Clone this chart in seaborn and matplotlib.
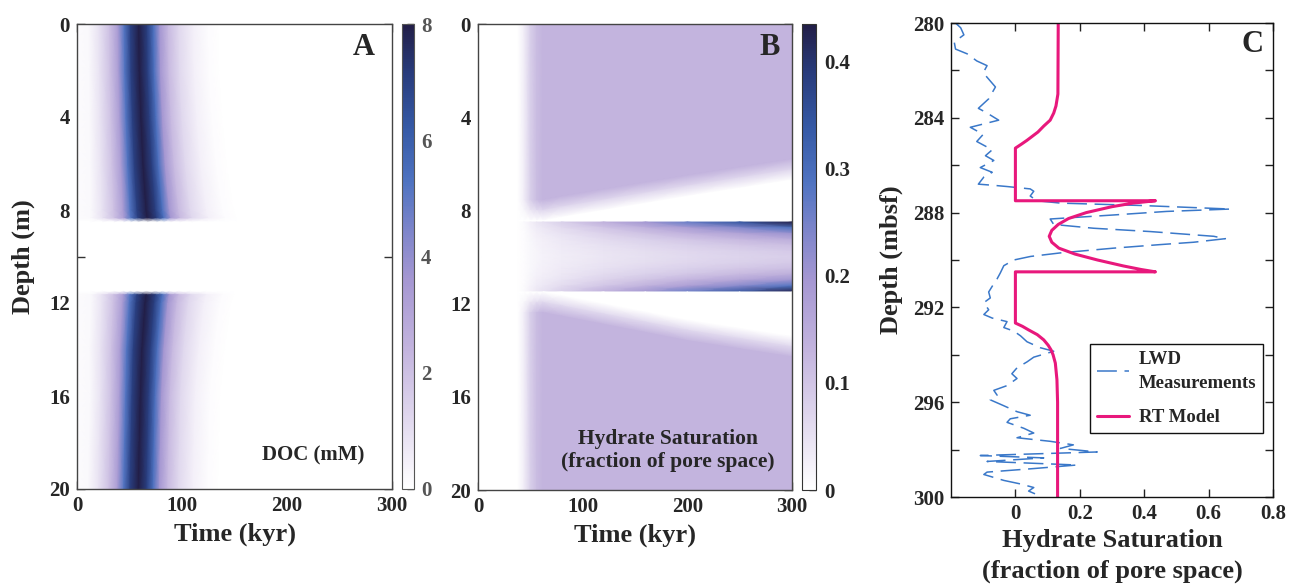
import numpy as np
import matplotlib
matplotlib.use("Agg")
import matplotlib.pyplot as plt
from matplotlib.colors import LinearSegmentedColormap, Normalize
from matplotlib.ticker import MultipleLocator, FixedLocator, FixedFormatter
import seaborn as sns

# ---------------- Panel A: DOC pulse (mM) ----------------
# DOC across the pulse, as a function of time relative to the pulse centre (kyr)
doc_offset = [-80, -48, -38, -28, -20, -14, -8, 0, 8, 14, 20, 28, 38, 52, 66, 76, 260]
doc_profile = [0, 0.2, 0.9, 2.0, 3.4, 5.2, 7.0, 8.0, 7.0, 5.4, 3.6, 2.2, 1.2, 0.45, 0.1, 0.0, 0.0]
# pulse centre (kyr), spread and strength with depth, above and below the 8.5-11.5 m layer
doc_upper_depth = [0, 2, 4, 6, 8, 8.35, 8.5]
doc_upper_centre = [59, 59.5, 61, 63, 66, 67, 67]
doc_upper_spread = [1.0, 1.0, 1.02, 1.05, 1.1, 1.12, 1.12]
doc_upper_level = [1, 1, 1, 1, 1, 1, 0]
doc_lower_depth = [11.5, 11.65, 12, 14, 16, 18, 20]
doc_lower_centre = [66, 66, 65, 62, 60.5, 59.5, 58.5]
doc_lower_spread = [1.1, 1.1, 1.08, 1.04, 1.0, 1.0, 1.0]
doc_lower_level = [0, 1, 1, 1, 1, 1, 1]
doc_ticks = [0, 2, 4, 6, 8]

# ---------------- Panel B: hydrate saturation ----------------
sat_time = [0, 38, 44, 50, 56, 62, 80, 120, 160, 200, 250, 300]
host_sat = [0, 0, 0.03, 0.08, 0.115, 0.13, 0.13, 0.13, 0.13, 0.13, 0.13, 0.13]
upper_edge = [8.0, 8.0, 8.0, 8.0, 8.0, 8.0, 7.85, 7.55, 7.25, 6.95, 6.6, 6.25]
lower_edge = [11.95, 11.95, 11.95, 11.95, 11.95, 11.95, 12.1, 12.45, 12.8, 13.15, 13.5, 13.85]
edge_halfwidth = 0.45
face_sat = [0, 0, 0.01, 0.025, 0.04, 0.05, 0.08, 0.14, 0.2, 0.265, 0.345, 0.435]
centre_sat = [0, 0, 0.005, 0.012, 0.018, 0.022, 0.03, 0.042, 0.052, 0.062, 0.072, 0.082]
layer_top, layer_bottom = 8.5, 11.5
band_offset = [0, 0.25, 0.5, 0.75, 1.0, 1.25, 1.5]
band_weight = [1, 0.59, 0.35, 0.18, 0.085, 0.025, 0]
sat_max = 0.435
sat_ticks = [0, 0.1, 0.2, 0.3, 0.4]

# ---------------- Panel C: profile at site ----------------
lwd_depth = [280.0, 280.2, 280.5, 280.8, 281.1, 281.3, 281.6, 281.8, 282.1, 282.7,
             283.2, 283.6, 283.8, 284.1, 284.4, 284.7, 285.0, 285.35, 285.6, 285.8,
             286.1, 286.3, 286.5, 286.8, 286.85, 286.9, 287.0, 287.1, 287.3, 287.5,
             287.6, 287.7, 287.85, 287.95, 288.1, 288.27, 288.5, 288.66, 288.8, 289.0,
             289.1, 289.25, 289.35, 289.5, 289.7, 289.85, 290.0, 290.24, 290.55, 290.8,
             291.0, 291.35, 291.6, 291.8, 292.1, 292.3, 292.45, 292.6, 292.85, 293.0,
             293.2, 293.45, 293.7, 293.85, 294.1, 294.3, 294.55, 294.8, 295.0, 295.3,
             295.5, 295.7, 295.9, 296.15, 296.4, 296.55, 296.7, 296.85, 297.1, 297.3,
             297.5, 297.65, 297.8, 297.95, 298.1, 298.25, 298.35, 298.5, 298.65, 298.8,
             298.95, 299.05, 299.3, 299.45, 299.6, 299.75, 299.9]
lwd_sat = [-0.186, -0.17, -0.16, -0.19, -0.186, -0.15, -0.12, -0.088, -0.10, -0.062,
           -0.083, -0.115, -0.088, -0.052, -0.14, -0.10, -0.12, -0.072, -0.093, -0.067,
           -0.109, -0.072, -0.098, -0.115, -0.067, -0.026, 0.046, 0.057, 0.046, 0.067,
           0.14, 0.39, 0.668, 0.47, 0.305, 0.108, 0.119, 0.243, 0.419, 0.616,
           0.652, 0.554, 0.45, 0.305, 0.14, 0.047, -0.005, -0.036, -0.047, -0.057,
           -0.067, -0.083, -0.078, -0.098, -0.083, -0.098, -0.072, -0.026, -0.036, -0.005,
           0.016, 0.036, 0.077, 0.119, 0.057, 0.036, 0.005, -0.011, 0.005, -0.026,
           -0.067, -0.057, -0.078, -0.036, 0.005, 0.046, -0.016, -0.026, 0.026, 0.057,
           0.005, 0.108, 0.18, 0.14, 0.254, -0.109, 0.088, -0.088, 0.191, 0.057,
           -0.088, -0.098, -0.036, 0.016, 0.057, 0.041, 0.067]
rt_depth = [280.0, 283.0, 283.25, 283.5, 283.8, 284.1, 284.35, 284.6, 284.95, 285.1,
            285.28, 287.5, 287.5, 287.6, 287.75, 288.0, 288.25, 288.5, 288.75, 289.0,
            289.25, 289.5, 289.75, 290.0, 290.25, 290.4, 290.5, 290.5, 292.66, 292.8,
            292.95, 293.15, 293.37, 293.6, 293.8, 294.0, 294.35, 295.05, 296.0, 300.0]
rt_sat = [0.133, 0.132, 0.129, 0.126, 0.119, 0.108, 0.088, 0.07, 0.036, 0.02,
          0.0, 0.0, 0.435, 0.365, 0.30, 0.22, 0.165, 0.133, 0.113, 0.105,
          0.113, 0.135, 0.185, 0.255, 0.335, 0.39, 0.435, 0.0, 0.0, 0.022,
          0.041, 0.068, 0.088, 0.102, 0.111, 0.117, 0.124, 0.129, 0.131, 0.131]

# ---------------- style ----------------
sns.set_theme(style="ticks")
plt.rcParams.update({
    "font.family": ["Liberation Serif", "DejaVu Serif"],
    "font.weight": "bold",
    "axes.labelweight": "bold",
    "axes.edgecolor": "#333333",
    "axes.linewidth": 1.0,
})

cmap = LinearSegmentedColormap.from_list(
    "doc_hyd",
    list(zip([0, 0.12, 0.3, 0.45, 0.55, 0.66, 0.78, 0.9, 1.0],
             ["#ffffff", "#e6dff1", "#c3b4de", "#a597d2", "#8086cb",
              "#4f73c1", "#3559a5", "#283b7a", "#221e47"])))

W, H = 1299, 585
fig = plt.figure(figsize=(W / 100, H / 100), dpi=100)


def box(x0, y0, x1, y1):
    return [x0 / W, 1 - y1 / H, (x1 - x0) / W, (y1 - y0) / H]


axA = fig.add_axes(box(77, 24, 392, 489))
caxA = fig.add_axes(box(402, 24, 414, 489))
axB = fig.add_axes(box(478, 24, 792, 490))
caxB = fig.add_axes(box(802, 24, 816, 490))
axC = fig.add_axes(box(951, 23, 1273, 497))

TICK = 15
LABEL = 19


def style_field_axes(ax):
    ax.set_xlim(0, 300)
    ax.set_ylim(20, 0)
    ax.xaxis.set_major_locator(FixedLocator([0, 100, 200, 300]))
    ax.xaxis.set_minor_locator(FixedLocator([50, 150, 250]))
    ax.yaxis.set_major_locator(MultipleLocator(4))
    ax.yaxis.set_minor_locator(MultipleLocator(2))
    ax.tick_params(which="both", direction="in", top=True, right=True,
                   length=6, width=1, color="#333333", labelsize=TICK, pad=5)
    ax.set_xlabel("Time (kyr)", fontsize=LABEL, labelpad=5)
    for s in ax.spines.values():
        s.set_visible(True)
        s.set_color("#444444")


# ---- Panel A mesh: grid follows the pulse centre at each depth ----
normA = Normalize(0, 8)
for dep, cen, spr, lev in [(doc_upper_depth, doc_upper_centre, doc_upper_spread, doc_upper_level),
                           (doc_lower_depth, doc_lower_centre, doc_lower_spread, doc_lower_level)]:
    X = np.array(cen)[:, None] + np.array(spr)[:, None] * np.array(doc_offset)[None, :]
    Y = np.repeat(np.array(dep)[:, None], len(doc_offset), axis=1)
    C = np.array(lev)[:, None] * np.array(doc_profile)[None, :]
    meshA = axA.pcolormesh(X, Y, C, shading="gouraud", cmap=cmap, norm=normA,
                           antialiased=False)
style_field_axes(axA)
axA.set_ylabel("Depth (m)", fontsize=LABEL, labelpad=10)
axA.text(0.91, 0.95, "A", transform=axA.transAxes, ha="center", va="center",
         fontsize=22, fontweight="bold")
axA.text(0.75, 0.073, "DOC (mM)", transform=axA.transAxes, ha="center", va="center",
         fontsize=15, fontweight="bold")

cbA = fig.colorbar(meshA, cax=caxA)
cbA.set_ticks(doc_ticks)
cbA.ax.yaxis.set_minor_locator(MultipleLocator(1))
cbA.ax.tick_params(which="both", direction="in", length=5, width=1, color="#333333",
                   labelsize=TICK, labelcolor="#555555", pad=5)
cbA.outline.set_edgecolor("#555555")
cbA.outline.set_linewidth(0.8)

# ---- Panel B meshes ----
normB = Normalize(0, sat_max)
t = np.array(sat_time, dtype=float)
host = np.array(host_sat)
ue = np.array(upper_edge)
le = np.array(lower_edge)
n = len(t)

# host sediment above the layer
Yu = np.vstack([np.zeros(n), ue - edge_halfwidth, ue, ue + edge_halfwidth,
                np.full(n, layer_top)])
Cu = np.vstack([host, host, 0.5 * host, 0 * host, 0 * host])
# host sediment below the layer
Yl = np.vstack([np.full(n, layer_bottom), le - edge_halfwidth, le, le + edge_halfwidth,
                np.full(n, 20.0)])
Cl = np.vstack([0 * host, 0 * host, 0.5 * host, host, host])
# the 8.5-11.5 m layer, filling in from both faces
off = np.array(band_offset)
wgt = np.array(band_weight)
rows_d = np.concatenate([layer_top + off, layer_bottom - off[-2::-1]])
rows_w = np.concatenate([wgt, wgt[-2::-1]])
face = np.array(face_sat)
mid = np.array(centre_sat)
Ym = np.repeat(rows_d[:, None], n, axis=1)
Cm = mid[None, :] + (face - mid)[None, :] * rows_w[:, None]

for Y, C in [(Yu, Cu), (Ym, Cm), (Yl, Cl)]:
    X = np.repeat(t[None, :], Y.shape[0], axis=0)
    meshB = axB.pcolormesh(X, Y, C, shading="gouraud", cmap=cmap, norm=normB,
                           antialiased=False)
style_field_axes(axB)
axB.text(0.93, 0.95, "B", transform=axB.transAxes, ha="center", va="center",
         fontsize=22, fontweight="bold")
axB.text(0.605, 0.084, "Hydrate Saturation\n(fraction of pore space)",
         transform=axB.transAxes, ha="center", va="center", fontsize=15.5,
         fontweight="bold", linespacing=1.2)

cbB = fig.colorbar(meshB, cax=caxB)
cbB.set_ticks(sat_ticks)
cbB.ax.yaxis.set_major_formatter(FixedFormatter(["0", "0.1", "0.2", "0.3", "0.4"]))
cbB.ax.yaxis.set_minor_locator(MultipleLocator(0.05))
cbB.ax.tick_params(which="both", direction="in", length=5, width=1, color="#333333",
                   labelsize=TICK, pad=6)
cbB.outline.set_edgecolor("#333333")
cbB.outline.set_linewidth(0.8)

# ---- Panel C ----
sns.lineplot(x=lwd_sat, y=lwd_depth, orient="y", sort=False, estimator=None, ax=axC,
             color="#3a78c9", linewidth=1.1, linestyle=(0, (13, 5)),
             label="LWD\nMeasurements")
sns.lineplot(x=rt_sat, y=rt_depth, orient="y", sort=False, estimator=None, ax=axC,
             color="#e8187c", linewidth=2.2, label="RT Model")
axC.set_xlim(-0.2, 0.8)
axC.set_ylim(300, 280)
axC.xaxis.set_major_locator(FixedLocator([0, 0.2, 0.4, 0.6, 0.8]))
axC.xaxis.set_major_formatter(FixedFormatter(["0", "0.2", "0.4", "0.6", "0.8"]))
axC.yaxis.set_major_locator(MultipleLocator(4))
axC.yaxis.set_minor_locator(MultipleLocator(2))
axC.tick_params(which="both", direction="in", top=True, right=True, length=6, width=1,
                color="#222222", labelsize=TICK, pad=5)
for s in axC.spines.values():
    s.set_visible(True)
    s.set_color("#111111")
axC.set_xlabel("Hydrate Saturation\n(fraction of pore space)", fontsize=LABEL,
               labelpad=4, linespacing=1.4)
axC.set_ylabel("Depth (mbsf)", fontsize=LABEL, labelpad=7)
axC.text(0.935, 0.954, "C", transform=axC.transAxes, ha="center", va="center",
         fontsize=22, fontweight="bold")
leg = axC.legend(loc="lower left", bbox_to_anchor=(0.432, 0.135), borderaxespad=0,
                 fontsize=13.5, frameon=True, fancybox=False, framealpha=1,
                 edgecolor="#111111", handlelength=1.75, handletextpad=0.5,
                 labelspacing=0.9, borderpad=0.35)
leg.get_frame().set_linewidth(1.0)
for txt in leg.get_texts():
    txt.set_fontweight("bold")
    txt.set_linespacing(1.6)

fig.savefig("out.png", dpi=100, facecolor="white")
